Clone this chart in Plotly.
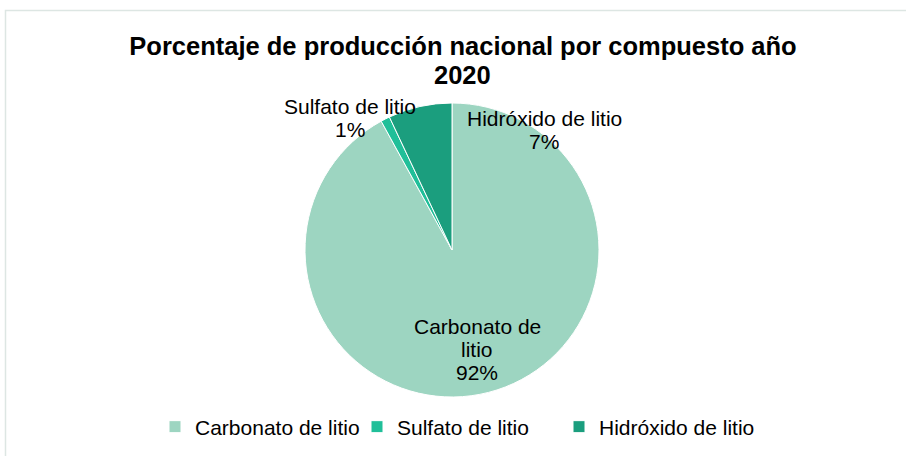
import plotly.graph_objects as go

W, H = 906, 456

# data
compuestos = ['Carbonato de litio', 'Sulfato de litio', 'Hidróxido de litio']
porcentajes = [92, 1, 7]
colores = ['#9dd5c1', '#20bf99', '#1b9e7e']

titulo = 'Porcentaje de producción nacional por compuesto año'
anio = '2020'

# label text lines (Excel wraps the big one) and where each block sits (px)
label_lines = [['Carbonato de', 'litio'], ['Sulfato de litio'], ['Hidróxido de litio']]
label_pos = [(477, 332), (350, 112), (544, 124)]   # center x, first baseline

FONT = 'Liberation Sans, Arial'


def px(x, y):
    return x / W, 1 - y / H


fig = go.Figure(go.Pie(
    labels=compuestos,
    values=porcentajes,
    marker=dict(colors=colores, line=dict(color='white', width=1)),
    sort=False,
    direction='clockwise',
    rotation=0,
    textinfo='none',
    hoverinfo='label+percent',
    domain=dict(x=[305 / W, 599 / W], y=[1 - 397 / H, 1 - 103 / H]),
))

# data labels, one annotation per line to keep Excel's tight line spacing
annotations = []
for lines, pct, (cx, by) in zip(label_lines, porcentajes, label_pos):
    for i, txt in enumerate(lines + [f'{pct}%']):
        x, y = px(cx, by + 23 * i - 5.5)
        annotations.append(dict(
            text=txt, x=x, y=y, xref='paper', yref='paper',
            xanchor='center', yanchor='middle', showarrow=False,
            font=dict(size=21, color='black', family=FONT),
        ))

# second title line, Excel spaces it tighter than plotly's <br>
tx, ty = px(463, 75)
annotations.append(dict(
    text=f'<b>{anio}</b>', x=tx, y=ty, xref='paper', yref='paper',
    xanchor='center', yanchor='middle', showarrow=False,
    font=dict(size=25.5, color='black', family=FONT),
))

fig.update_layout(
    width=W, height=H,
    margin=dict(l=0, r=0, t=0, b=0),
    paper_bgcolor='white',
    plot_bgcolor='white',
    font=dict(family=FONT, color='black', size=21),
    title=dict(
        text=f'<b>{titulo}</b>',
        x=463 / W, xanchor='center', y=1 - 46.5 / H, yanchor='middle',
        font=dict(size=25.5, color='black', family=FONT),
    ),
    showlegend=True,
    legend=dict(
        orientation='h', x=155 / W, xanchor='left', y=1 - 427 / H, yanchor='middle',
        entrywidth=157, entrywidthmode='pixels',
        font=dict(size=21), bgcolor='rgba(0,0,0,0)',
    ),
    annotations=annotations,
    shapes=[dict(type='rect', xref='paper', yref='paper',
                 x0=5.5 / W, x1=1.02, y0=-0.02, y1=1 - 10.5 / H,
                 line=dict(color='#dde6e3', width=1.5), layer='below')],
)

# page body has an 8px default margin, drop it so the figure fills the window
fig.write_html('out.html', config={'displayModeBar': False},
               post_script="document.body.style.margin='0';")
